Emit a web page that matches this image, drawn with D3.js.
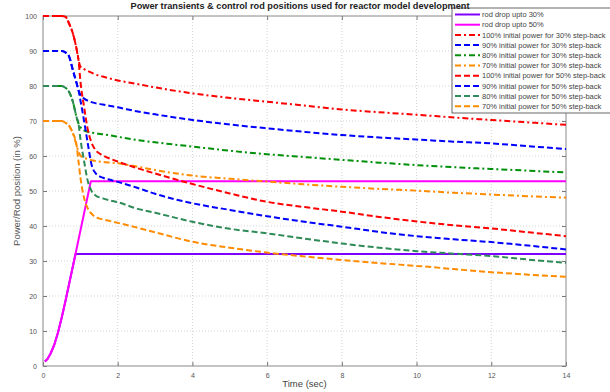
<!DOCTYPE html>
<html>
<head>
<meta charset="utf-8">
<script src="https://cdn.jsdelivr.net/npm/d3@7"></script>
<style>
  body { margin: 0; background: #fff; }
  svg { display: block; font-family: "Liberation Sans", Arial, sans-serif; }
</style>
</head>
<body>
<svg id="chart" width="610" height="392"></svg>
<script>
// sample times (sec) shared by every power transient
const times = [0, 0.5, 0.6, 0.7, 0.8, 0.9, 0.95, 1.0, 1.1, 1.2, 1.3, 1.4, 1.6, 1.8, 2,
               2.5, 3, 4, 5, 6, 7, 8, 9, 10, 11, 12, 13, 14];

// power (%) for 30% step-back
const p100_30 = [100, 100, 99.8, 97.8, 95, 90.5, 87.5, 85.6, 84.8, 84.3, 83.8, 83.3, 82.7, 82.1, 81.6,
                 80.6, 79.6, 77.9, 76.6, 75.5, 74.4, 73.3, 72.5, 71.8, 71, 70.3, 69.6, 68.9];
const p90_30  = [90, 90, 89.6, 88.4, 84.5, 80.8, 78.8, 77.5, 76.4, 75.8, 75.4, 75.1, 74.7, 74.3, 73.9,
                 72.8, 71.9, 70.3, 69, 67.9, 66.9, 66, 65.3, 64.7, 64.1, 63.6, 62.8, 62];
const p80_30  = [80, 80, 79.5, 78.3, 75.5, 71, 69.3, 68.3, 67.3, 66.9, 66.7, 66.5, 66.2, 65.9, 65.5,
                 64.6, 63.9, 62.7, 61.5, 60.5, 59.7, 58.9, 58.1, 57.4, 56.8, 56.3, 55.8, 55.3];
const p70_30  = [70, 70, 69.5, 68.6, 66.5, 63, 61.2, 60.2, 59.5, 59.1, 58.8, 58.6, 58.3, 58.1, 57.9,
                 57, 56, 54.4, 53.5, 52.7, 51.9, 51.2, 50.6, 50.1, 49.5, 49, 48.5, 48.1];

// power (%) for 50% step-back
const p100_50 = [100, 100, 99.8, 97.8, 95, 90.5, 87.5, 81.5, 74, 67.5, 63.8, 61.8, 60.2, 59.2, 58.4,
                 56.6, 55, 52, 49.3, 46.9, 45.4, 44.1, 42.6, 41.3, 40.2, 39.3, 38.2, 37.1];
const p90_50  = [90, 90, 89.6, 88.4, 84.5, 80.8, 78.8, 76, 70, 63.5, 57.5, 55.2, 53.8, 53.2, 52.6,
                 51, 49.2, 46.5, 44.6, 42.8, 41.2, 39.8, 38.3, 37.1, 36.2, 35.4, 34.4, 33.3];
const p80_50  = [80, 80, 79.5, 78.3, 75.5, 71, 69.3, 65, 58.5, 52.8, 50, 48.8, 47.9, 47.3, 46.8,
                 45, 43.8, 41.2, 39.2, 37.9, 36.4, 35, 33.8, 32.8, 32.1, 31.4, 30.4, 29.5];
const p70_50  = [70, 70, 69.5, 68.6, 66.5, 63, 58.5, 54, 48, 45, 43.5, 42.6, 41.9, 41.4, 40.9,
                 39.6, 38.2, 35.5, 33.8, 32.4, 31.3, 30.3, 29.4, 28.6, 27.7, 26.8, 26.1, 25.5];

// control rod positions (%)
const rod30Times = [0.05, 0.12, 0.2, 0.3, 0.4, 0.5, 0.6, 0.7, 0.87, 14];
const rod30      = [1.3, 2, 3.5, 6, 9.5, 13.8, 18.5, 23.5, 32, 32];
const rod50Times = [0.05, 0.12, 0.2, 0.3, 0.4, 0.5, 0.6, 0.7, 0.87, 1.28, 14];
const rod50      = [1.3, 2, 3.5, 6, 9.5, 13.8, 18.5, 23.5, 32, 52.8, 52.8];

const xTicks = [0, 2, 4, 6, 8, 10, 12, 14];
const yTicks = [0, 10, 20, 30, 40, 50, 60, 70, 80, 90, 100];

const titleText = 'Power transients & control rod positions used for reactor model development';
const xLabel = 'Time (sec)';
const yLabel = 'Power/Rod position (in %)';

const dash = '6,3', dashDot = '6,3,2,3';

const series = [
  {name: 'rod drop upto 30%', x: rod30Times, y: rod30, color: '#8000ff', dash: null, curve: d3.curveLinear},
  {name: 'rod drop upto 50%', x: rod50Times, y: rod50, color: '#ff00ff', dash: null, curve: d3.curveLinear},
  {name: '100% initial power for 30% step-back', x: times, y: p100_30, color: '#ff0000', dash: dashDot},
  {name: '90% initial power for 30% step-back',  x: times, y: p90_30,  color: '#0000ff', dash: dash},
  {name: '80% initial power for 30% step-back',  x: times, y: p80_30,  color: '#00900a', dash: dashDot},
  {name: '70% initial power for 30% step-back',  x: times, y: p70_30,  color: '#ff8c00', dash: dashDot},
  {name: '100% initial power for 50% step-back', x: times, y: p100_50, color: '#ff0000', dash: dash},
  {name: '90% initial power for 50% step-back',  x: times, y: p90_50,  color: '#0000ff', dash: dash},
  {name: '80% initial power for 50% step-back',  x: times, y: p80_50,  color: '#2e8b57', dash: dash},
  {name: '70% initial power for 50% step-back',  x: times, y: p70_50,  color: '#ff8c00', dash: dash}
];

const margin = {top: 16, right: 44, bottom: 26, left: 43},
      width = 610, height = 392,
      innerW = width - margin.left - margin.right,
      innerH = height - margin.top - margin.bottom;

const svg = d3.select('#chart');

const x = d3.scaleLinear().domain([0, 14]).range([0, innerW]);
const y = d3.scaleLinear().domain([0, 100]).range([innerH, 0]);

const g = svg.append('g')
    .attr('transform', 'translate(' + margin.left + ',' + margin.top + ')');

// dotted grid
g.append('g').selectAll('line').data(xTicks.slice(1, -1)).enter().append('line')
    .attr('x1', d => x(d)).attr('x2', d => x(d))
    .attr('y1', 0).attr('y2', innerH)
    .attr('stroke', '#c8c8c8').attr('stroke-width', 0.8).attr('stroke-dasharray', '1,2');
g.append('g').selectAll('line').data(yTicks.slice(1, -1)).enter().append('line')
    .attr('x1', 0).attr('x2', innerW)
    .attr('y1', d => y(d)).attr('y2', d => y(d))
    .attr('stroke', '#c8c8c8').attr('stroke-width', 0.8).attr('stroke-dasharray', '1,2');

// axes, ticks pointing inward like a boxed plot
function styleAxis(sel) {
  sel.select('.domain').remove();
  sel.selectAll('.tick line').attr('stroke', '#777');
  sel.selectAll('.tick text').attr('fill', '#555').attr('font-size', 7);
}

g.append('g')
    .attr('transform', 'translate(0,' + innerH + ')')
    .call(d3.axisBottom(x).tickValues(xTicks).tickSize(-4).tickPadding(7))
    .call(styleAxis);
g.append('g')
    .call(d3.axisLeft(y).tickValues(yTicks).tickSize(-4).tickPadding(6))
    .call(styleAxis);
g.append('g')
    .attr('transform', 'translate(' + innerW + ',0)')
    .call(d3.axisRight(y).tickValues(yTicks).tickSize(-4).tickFormat(''))
    .call(styleAxis);
g.append('g')
    .call(d3.axisTop(x).tickValues(xTicks).tickSize(-4).tickFormat(''))
    .call(styleAxis);

g.append('rect')
    .attr('width', innerW).attr('height', innerH)
    .attr('fill', 'none').attr('stroke', '#888').attr('stroke-width', 1);

// curves
series.forEach(function(s) {
  const line = d3.line()
      .x(d => x(d[0]))
      .y(d => y(d[1]))
      .curve(s.curve || d3.curveMonotoneX);

  g.append('path')
      .datum(d3.zip(s.x, s.y))
      .attr('fill', 'none')
      .attr('stroke', s.color)
      .attr('stroke-width', 2)
      .attr('stroke-linejoin', 'round')
      .attr('stroke-dasharray', s.dash)
      .attr('d', line);
});

// labels
svg.append('text')
    .attr('x', margin.left + innerW / 2).attr('y', 387)
    .attr('text-anchor', 'middle').attr('font-size', 9.5).attr('fill', '#444')
    .text(xLabel);
svg.append('text')
    .attr('transform', 'translate(20,' + (margin.top + innerH / 2) + ') rotate(-90)')
    .attr('text-anchor', 'middle').attr('font-size', 9.5).attr('fill', '#555')
    .text(yLabel);

// legend
const legend = svg.append('g').attr('transform', 'translate(452,8)');
legend.append('rect')
    .attr('width', 162).attr('height', 105)
    .attr('fill', '#fff').attr('stroke', '#666').attr('stroke-width', 1);

const rows = legend.selectAll('g.row').data(series).enter().append('g')
    .attr('class', 'row')
    .attr('transform', (d, i) => 'translate(0,' + (6.5 + i * 10.2) + ')');
rows.append('line')
    .attr('x1', 3).attr('x2', 28)
    .attr('stroke', d => d.color).attr('stroke-width', 2)
    .attr('stroke-dasharray', d => d.dash);
rows.append('text')
    .attr('x', 30).attr('dy', '0.35em')
    .attr('font-size', 7.5).attr('fill', '#444')
    .text(d => d.name);

svg.append('text')
    .attr('x', 300).attr('y', 9)
    .attr('text-anchor', 'middle').attr('font-size', 9.2).attr('font-weight', 'bold')
    .attr('fill', '#222')
    .text(titleText);
</script>
</body>
</html>
